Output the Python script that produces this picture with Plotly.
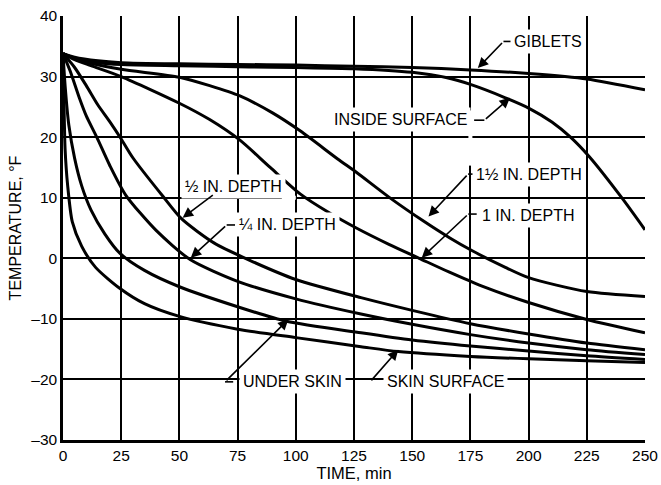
import plotly.graph_objects as go

FONT = "Liberation Sans, Arial, Helvetica, sans-serif"

# ---- data: time (min) and temperature (deg F) ----
giblets_t = [0, 5, 15, 25, 50, 75, 100, 125, 150, 175, 200, 225, 250]
giblets_T = [33.8, 33.2, 32.6, 32.3, 32.1, 32.0, 31.9, 31.7, 31.5, 31.1, 30.5, 29.6, 27.8]

inside_t = [0, 5, 15, 25, 50, 80, 100, 125, 150, 165, 175, 190, 200, 210, 218, 226, 240, 250]
inside_T = [33.8, 33.0, 32.3, 32.0, 31.8, 31.6, 31.5, 31.3, 30.7, 29.8, 28.7, 26.5, 24.8, 22.5, 20.0, 16.8, 10.0, 4.7]

d150_t = [0, 5, 12, 25, 50, 63, 76, 90, 102, 118, 126, 140, 155, 166, 176, 190, 200, 225, 250]
d150_T = [33.8, 33.0, 32.2, 31.2, 29.9, 28.5, 26.8, 24.0, 21.0, 16.4, 14.2, 10.1, 6.1, 3.4, 1.2, -1.5, -3.2, -5.5, -6.3]

d100_t = [0, 5, 12, 25, 50, 63, 76, 89, 102, 114, 126, 140, 153, 166, 180, 200, 225, 250]
d100_T = [33.8, 32.8, 31.8, 30.0, 25.6, 22.9, 19.5, 15.0, 10.6, 7.6, 5.0, 2.3, 0.0, -2.3, -4.6, -7.3, -10.1, -12.3]

d050_t = [0, 5, 10, 15, 20, 25, 30, 43, 51, 65, 80, 100, 128, 150, 175, 200, 225, 250]
d050_T = [33.8, 31.5, 28.5, 25.3, 22.6, 19.7, 16.6, 10.2, 6.5, 2.5, -0.3, -3.5, -6.5, -8.6, -10.8, -12.5, -14.0, -15.1]

d025_t = [0, 3, 7, 10, 14.5, 20, 27, 40, 54.6, 75, 100, 128, 150, 175, 200, 225, 250]
d025_T = [33.8, 31.0, 26.5, 23.5, 20.0, 15.4, 10.4, 4.6, -0.2, -3.8, -6.7, -9.2, -10.9, -12.6, -14.0, -15.1, -15.9]

under_t = [0, 1, 2.5, 5, 8, 12, 18, 24.5, 35, 50, 75, 96, 128, 150, 175, 200, 225, 250]
under_T = [33.8, 28.0, 22.0, 16.5, 12.0, 8.0, 4.0, 0.8, -2.0, -4.7, -8.0, -10.4, -12.3, -13.5, -14.5, -15.3, -16.1, -16.7]

skin_t = [0, 0.3, 0.9, 2, 4, 8, 14, 24.5, 35, 50, 75, 100, 128, 144, 175, 200, 225, 250]
skin_T = [33.8, 28.0, 18.0, 12.0, 6.0, 2.0, -1.5, -5.0, -7.5, -9.6, -11.7, -13.1, -14.6, -15.4, -16.2, -16.6, -16.9, -17.2]

series = [
    ("GIBLETS", giblets_t, giblets_T),
    ("INSIDE SURFACE", inside_t, inside_T),
    ("1½ IN. DEPTH", d150_t, d150_T),
    ("1 IN. DEPTH", d100_t, d100_T),
    ("½ IN. DEPTH", d050_t, d050_T),
    ("¼ IN. DEPTH", d025_t, d025_T),
    ("UNDER SKIN", under_t, under_T),
    ("SKIN SURFACE", skin_t, skin_T),
]

x_ticks = [0, 25, 50, 75, 100, 125, 150, 175, 200, 225, 250]
y_ticks = [-30, -20, -10, 0, 10, 20, 30, 40]

fig = go.Figure()
for name, t, T in series:
    fig.add_trace(go.Scatter(
        x=t, y=T, mode="lines", name=name, showlegend=False, hoverinfo="skip",
        line=dict(color="black", width=3, shape="spline", smoothing=0.7),
    ))


def label(text, x, y):
    fig.add_annotation(
        x=x, y=y, text=text, showarrow=False, xanchor="center", yanchor="middle",
        font=dict(family=FONT, size=16, color="black"),
        bgcolor="white", borderpad=3,
    )


def leader(pts):
    for (x0, y0), (x1, y1) in zip(pts[:-2], pts[1:-1]):
        fig.add_shape(type="line", x0=x0, y0=y0, x1=x1, y1=y1,
                      line=dict(color="black", width=1.6), layer="above")
    (ax, ay), (x, y) = pts[-2], pts[-1]
    fig.add_annotation(
        x=x, y=y, ax=ax, ay=ay, axref="x", ayref="y", text="", showarrow=True,
        arrowhead=2, arrowsize=1.3, arrowwidth=1.6, arrowcolor="black", standoff=0,
    )


def grid_gap(x0, y0, x1, y1):
    # white break in a grid line (drawn above grid, below curves)
    fig.add_shape(type="line", x0=x0, y0=y0, x1=x1, y1=y1,
                  line=dict(color="white", width=4), layer="between")


# no frame line on top in the original
fig.add_shape(type="line", xref="paper", x0=0.003, x1=1, yref="y", y0=40, y1=40,
              line=dict(color="white", width=3), layer="between")
grid_gap(175, 15.3, 175, 24.4)
grid_gap(94, 10, 100, 10)

label("GIBLETS", 208.3, 35.8)
leader([(192.6, 35.8), (189.2, 35.8), (178.2, 31.4)])

label("INSIDE SURFACE", 144.8, 22.9)
leader([(176.6, 22.8), (181.0, 22.8), (192.0, 26.5)])

label("1½ IN. DEPTH", 200.3, 13.9)
leader([(177.6, 13.9), (174.0, 13.9), (157.0, 6.9)])

label("1 IN. DEPTH", 199.9, 7.0)
leader([(177.7, 7.3), (174.1, 7.3), (154.1, 0.1)])

label("½ IN. DEPTH", 73.2, 11.8)
leader([(65.0, 10.6), (51.4, 6.7)])

label("¼ IN. DEPTH", 96.4, 5.5)
leader([(73.9, 5.5), (70.3, 5.5), (54.9, 0.1)])

label("UNDER SKIN", 98.6, -20.4)
leader([(73.1, -20.4), (69.6, -20.4), (96.8, -10.1)])

label("SKIN SURFACE", 164.4, -20.4)
leader([(131.9, -20.4), (144.0, -15.1)])

fig.update_layout(
    width=661, height=485,
    margin=dict(l=63, r=16, t=16, b=45, autoexpand=False),
    paper_bgcolor="white", plot_bgcolor="white",
    font=dict(family=FONT, color="black"),
    showlegend=False,
)
fig.update_xaxes(
    range=[0, 250], tickvals=x_ticks, ticktext=[str(v) for v in x_ticks],
    showgrid=True, gridcolor="black", gridwidth=1.5,
    showline=True, linecolor="black", linewidth=2.5, zeroline=False,
    ticks="", tickfont=dict(size=15.5, color="black"), automargin=False,
    title=dict(text="TIME, min", font=dict(size=16.5), standoff=3),
)
fig.update_yaxes(
    range=[-30, 40], tickvals=y_ticks, ticktext=[str(v).replace("-", "–") for v in y_ticks],
    showgrid=True, gridcolor="black", gridwidth=1.5,
    showline=True, linecolor="black", linewidth=2.5, zeroline=False,
    ticks="", tickfont=dict(size=15.5, color="black"), automargin=False,
    title=dict(text="TEMPERATURE, °F", font=dict(size=16), standoff=6),
)

fig.write_html("out.html")
